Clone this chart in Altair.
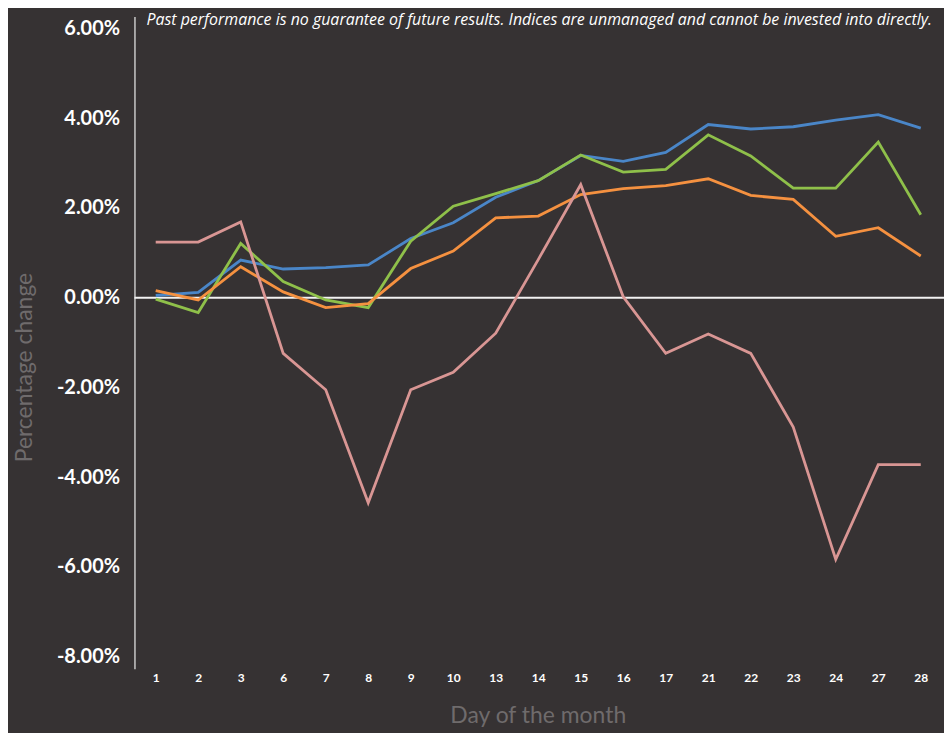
import altair as alt
import pandas as pd

days = ["1", "2", "3", "6", "7", "8", "9", "10", "13", "14", "15", "16", "17", "21", "22", "23", "24", "27", "28"]

blue = [0.05, 0.12, 0.84, 0.64, 0.67, 0.73, 1.32, 1.67, 2.24, 2.61, 3.17, 3.04, 3.24, 3.86, 3.76, 3.81, 3.96, 4.08, 3.78]
green = [-0.03, -0.33, 1.21, 0.36, -0.05, -0.22, 1.26, 2.04, 2.32, 2.61, 3.18, 2.80, 2.86, 3.63, 3.16, 2.44, 2.44, 3.47, 1.85]
orange = [0.16, -0.05, 0.69, 0.13, -0.22, -0.13, 0.65, 1.04, 1.78, 1.82, 2.30, 2.43, 2.50, 2.65, 2.28, 2.19, 1.37, 1.56, 0.93]
pink = [1.24, 1.24, 1.69, -1.24, -2.05, -4.57, -2.05, -1.66, -0.79, 0.85, 2.52, 0.02, -1.24, -0.81, -1.24, -2.88, -5.83, -3.72, -3.72]

series_names = ["Series A", "Series B", "Series C", "Series D"]
series_values = [blue, green, orange, pink]
series_colors = ["#4a86c8", "#8fc04a", "#f59140", "#d99694"]

y_ticks = [-8, -6, -4, -2, 0, 2, 4, 6]
note = "Past performance is no guarantee of future results. Indices are unmanaged and cannot be invested into directly."

rows = []
for name, vals in zip(series_names, series_values):
    for d, v in zip(days, vals):
        rows.append({"day": d, "series": name, "value": v / 100.0})
df = pd.DataFrame(rows)

bg = "#363233"
y_domain = [-0.08266, 0.06266]

x_enc = alt.X(
    "day:N",
    sort=days,
    scale=alt.Scale(type="point", padding=0.5),
    axis=alt.Axis(
        title="Day of the month",
        labelAngle=0,
        labelColor="#ffffff",
        labelFont="Lato",
        labelFontWeight="bold",
        labelFontSize=12,
        labelPadding=4,
        ticks=False,
        domain=False,
        grid=False,
        titleColor="#6f6b6c",
        titleFont="Lato",
        titleFontWeight="normal",
        titleFontSize=23,
        titleX=405,
        titleY=47,
        titleBaseline="middle",
        titleAlign="center",
    ),
)

y_enc = alt.Y(
    "value:Q",
    scale=alt.Scale(domain=y_domain, nice=False, zero=False),
    axis=alt.Axis(
        title="Percentage change",
        format=".2%",
        labelExpr="replace(datum.label, '\u2212', '-')",
        values=[t / 100.0 for t in y_ticks],
        labelColor="#ffffff",
        labelFont="Lato",
        labelFontWeight="bold",
        labelFontSize=20,
        labelPadding=15,
        ticks=False,
        grid=False,
        domain=True,
        domainColor="#c8c8c8",
        domainWidth=1.5,
        titleColor="#6f6b6c",
        titleFont="Lato",
        titleFontWeight="normal",
        titleFontSize=23,
        titleAngle=270,
        titleX=-110,
        titleY=352,
        titleAlign="center",
        titleBaseline="middle",
    ),
)

lines = alt.Chart(df).mark_line(strokeWidth=2.8).encode(
    x=x_enc,
    y=y_enc,
    color=alt.Color(
        "series:N",
        scale=alt.Scale(domain=series_names, range=series_colors),
        legend=None,
    ),
    detail="series:N",
)

zero_df = pd.DataFrame({"value": [0.0]})
zero_rule = alt.Chart(zero_df).mark_rule(color="#f2f2f2", strokeWidth=2).encode(
    y=alt.Y("value:Q", scale=alt.Scale(domain=y_domain, nice=False, zero=False)),
    x=alt.value(0),
    x2=alt.value(813),
)

note_df = pd.DataFrame({"text": [note]})
note_text = alt.Chart(note_df).mark_text(
    font="Open Sans",
    fontStyle="italic",
    fontSize=16,
    color="#ffffff",
    align="left",
    baseline="middle",
).encode(text="text:N", x=alt.value(12), y=alt.value(4))

chart = alt.layer(zero_rule, lines, note_text).properties(
    width=811,
    height=655,
    background=bg,
    padding={"left": 127, "top": 7, "right": 2, "bottom": 63},
    autosize=alt.AutoSizeParams(type="none"),
).configure_view(stroke=None)

chart.save("out.html", embed_options={"renderer": "svg", "actions": False})
